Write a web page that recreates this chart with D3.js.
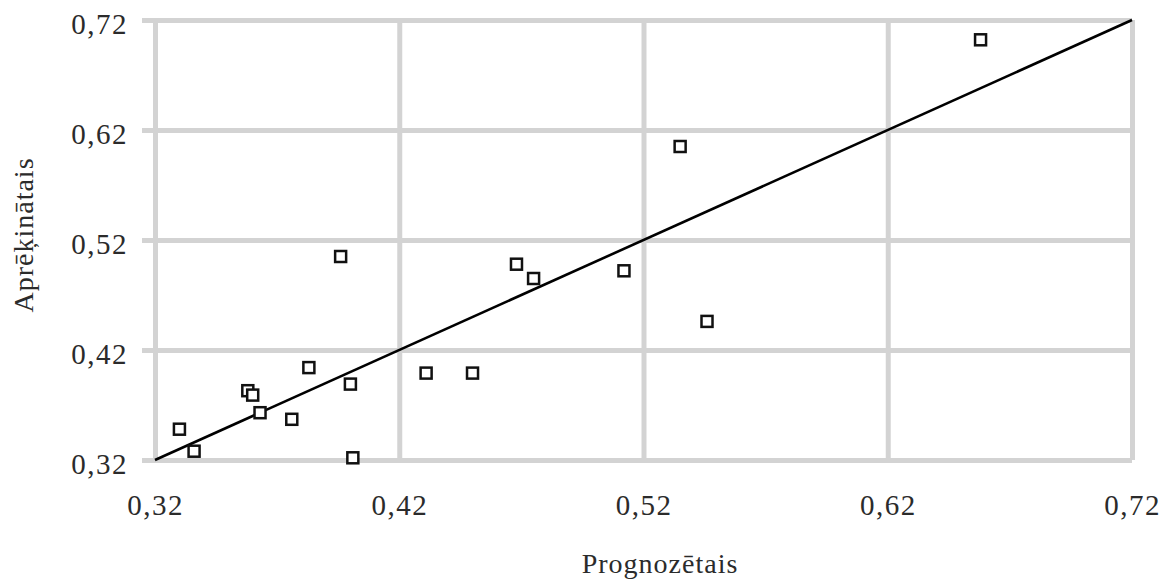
<!DOCTYPE html>
<html>
<head>
<meta charset="utf-8">
<script src="https://cdn.jsdelivr.net/npm/d3@7"></script>
<style>
  html, body { margin: 0; padding: 0; background: #fff; }
  svg { display: block; }
  text { font-family: "Liberation Serif", "Times New Roman", serif; fill: #2b2b2b; }
</style>
</head>
<body>
<svg id="chart" width="1172" height="579"></svg>
<script>
// Predicted vs. calculated values
const predicted  = [0.658, 0.535, 0.396, 0.468, 0.475, 0.512, 0.546, 0.431, 0.450, 0.383,
                    0.400, 0.358, 0.360, 0.363, 0.376, 0.330, 0.336, 0.401];
const calculated = [0.702, 0.605, 0.505, 0.498, 0.485, 0.492, 0.446, 0.399, 0.399, 0.404,
                    0.389, 0.383, 0.379, 0.363, 0.357, 0.348, 0.328, 0.322];
const tickValues = [0.32, 0.42, 0.52, 0.62, 0.72];
const tickLabels = ["0,32", "0,42", "0,52", "0,62", "0,72"];
const lineEnds   = [0.32, 0.72];   // 1:1 reference line
const xTitle = "Prognozētais";
const yTitle = "Aprēķinātais";

const svg = d3.select("#chart");
const margin = { left: 155, right: 40, top: 20, bottom: 119 };
const W = 1172, H = 579;

const x = d3.scaleLinear().domain([0.32, 0.72]).range([margin.left, W - margin.right]);
const y = d3.scaleLinear().domain([0.32, 0.72]).range([H - margin.bottom, margin.top]);

const gridColor = "#d3d3d3";
const fmt = d => tickLabels[tickValues.indexOf(d)];

// Horizontal gridlines (with short outward ticks on the left)
const yAxis = d3.axisLeft(y).tickValues(tickValues).tickFormat(fmt)
  .tickSize(-(x.range()[1] - x.range()[0]) - 13).tickPadding(14);
const gy = svg.append("g").attr("transform", `translate(${margin.left - 13},0)`).call(yAxis);
gy.select(".domain").remove();
gy.selectAll(".tick line").attr("stroke", gridColor).attr("stroke-width", 5);
gy.selectAll(".tick text").attr("font-size", 29).attr("letter-spacing", 1.5)
  .attr("dy", "0.45em");

// Vertical gridlines
const xAxis = d3.axisBottom(x).tickValues(tickValues).tickFormat(fmt)
  .tickSize(-(y.range()[0] - y.range()[1])).tickPadding(34);
const gx = svg.append("g").attr("transform", `translate(0,${y.range()[0]})`).call(xAxis);
gx.select(".domain").remove();
gx.selectAll(".tick line").attr("stroke", gridColor).attr("stroke-width", 5);
gx.selectAll(".tick text").attr("font-size", 29).attr("letter-spacing", 1.5);

// Reference line y = x
svg.append("line")
  .attr("x1", x(lineEnds[0])).attr("y1", y(lineEnds[0]))
  .attr("x2", x(lineEnds[1])).attr("y2", y(lineEnds[1]))
  .attr("stroke", "#000").attr("stroke-width", 2.6);

// Square markers
const s = 11;
svg.append("g").selectAll("rect")
  .data(predicted.map((p, i) => [p, calculated[i]]))
  .join("rect")
  .attr("x", d => x(d[0]) - s / 2)
  .attr("y", d => y(d[1]) - s / 2)
  .attr("width", s).attr("height", s)
  .attr("fill", "#fff").attr("stroke", "#111").attr("stroke-width", 2.5);

// Axis titles
svg.append("text")
  .attr("x", 660).attr("y", 573)
  .attr("text-anchor", "middle").attr("font-size", 28).attr("letter-spacing", 1)
  .text(xTitle);

svg.append("text")
  .attr("transform", `translate(33,235) rotate(-90)`)
  .attr("text-anchor", "middle").attr("font-size", 28).attr("letter-spacing", 1)
  .text(yTitle);
</script>
</body>
</html>
